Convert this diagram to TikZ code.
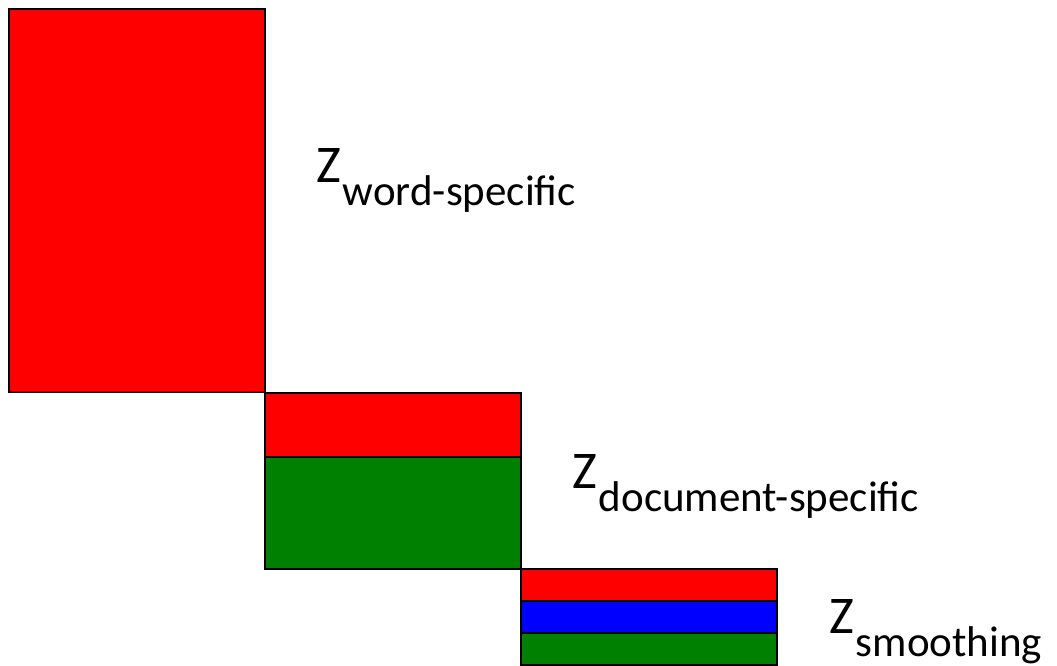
\documentclass[tikz,border=0pt]{standalone}
\usepackage{fontspec}
\setmainfont{Carlito}
\definecolor{boxred}{RGB}{255,0,0}
\definecolor{boxgreen}{RGB}{0,128,0}
\definecolor{boxblue}{RGB}{0,0,255}
\tikzset{
  block/.style={draw=black, line width=1.3pt},
  zlabel/.style={anchor=base west, inner sep=0pt, outer sep=0pt},
}
% Z with a lowered subscript
\newcommand{\zsub}[1]{\fontsize{53}{53}\selectfont Z\kern2pt\raisebox{-23pt}{\fontsize{43}{43}\selectfont #1}}
\begin{document}
\begin{tikzpicture}[x=1pt, y=-1pt]
  \useasboundingbox (0,0) rectangle (1057,666);
  % word-specific block
  \filldraw[block, fill=boxred] (9,9) rectangle (265,392);
  % document-specific block
  \filldraw[block, fill=boxred]   (265,393) rectangle (521,457);
  \filldraw[block, fill=boxgreen] (265,457) rectangle (521,569);
  % smoothing block
  \filldraw[block, fill=boxred]   (521,569) rectangle (777,601);
  \filldraw[block, fill=boxblue]  (521,601) rectangle (777,633);
  \filldraw[block, fill=boxgreen] (521,633) rectangle (777,665);
  % labels
  \node[zlabel] (lw) at (316,182) {\zsub{word-specific}};
  \node[zlabel] (ld) at (572,488) {\zsub{document-specific}};
  \node[zlabel] (ls) at (829,633) {\zsub{smoothing}};
\end{tikzpicture}
\end{document}
